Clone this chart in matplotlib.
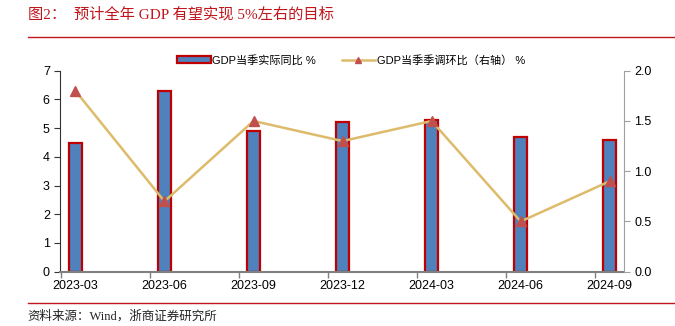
import matplotlib
matplotlib.use("Agg")
import matplotlib.pyplot as plt
from matplotlib.lines import Line2D
from matplotlib.patches import Patch
import numpy as np

plt.rcParams['font.family'] = ['Liberation Sans', 'Noto Sans CJK SC', 'DejaVu Sans']

quarters = ["2023-03", "2023-06", "2023-09", "2023-12", "2024-03", "2024-06", "2024-09"]
gdp_yoy = [4.5, 6.3, 4.9, 5.2, 5.3, 4.7, 4.6]
gdp_qoq = [1.8, 0.7, 1.5, 1.3, 1.5, 0.5, 0.9]

bar_fill = "#4F81BD"
bar_edge = "#C00000"
line_col = "#DDBB6A"
marker_col = "#C0504D"
title_red = "#C0161C"

fig = plt.figure(figsize=(6.75, 3.26), dpi=100)
ax = fig.add_axes([0.0893, 0.1666, 0.9244 - 0.0893, 0.783 - 0.1666])
ax2 = ax.twinx()

x = np.arange(len(quarters))
ax.bar(x, gdp_yoy, width=0.15, color=bar_fill, edgecolor=bar_edge, linewidth=1.6, zorder=2)
ax2.plot(x, gdp_qoq, color=line_col, linewidth=1.8, marker="^", markersize=6.5,
         markerfacecolor=marker_col, markeredgecolor=marker_col, zorder=3)

ax.set_xlim(-0.17, 6.16)
ax.set_ylim(0, 7)
ax2.set_ylim(0, 2.0)
ax.set_yticks(range(0, 8))
ax2.set_yticks([0, 0.5, 1.0, 1.5, 2.0])
ax2.set_yticklabels([f"{v:.1f}" for v in [0, 0.5, 1.0, 1.5, 2.0]])

ax.set_xticks(x)
ax.set_xticklabels(quarters)
ax.tick_params(axis="x", length=0, labelsize=9, pad=6)
ax.set_xticks(x - 0.163, minor=True)
ax.tick_params(axis="x", which="minor", length=4, color="#808080", width=1)
ax.tick_params(axis="y", labelsize=9, length=4, direction="out", color="#333333")
ax2.tick_params(axis="y", labelsize=9, length=4, direction="out", color="#A0A0A0")

for a in (ax, ax2):
    a.spines["top"].set_visible(False)
ax.spines["right"].set_visible(False)
ax2.spines["left"].set_visible(False)
ax2.spines["bottom"].set_visible(False)
ax.spines["left"].set_color("#333333")
ax2.spines["right"].set_color("#A0A0A0")
ax.spines["bottom"].set_color("#808080")
ax.spines["bottom"].set_linewidth(1.5)

handles = [
    Patch(facecolor=bar_fill, edgecolor=bar_edge, linewidth=1.6),
    Line2D([0], [0], color=line_col, linewidth=1.8, marker="^", markersize=5,
           markerfacecolor=marker_col, markeredgecolor=marker_col),
]
fig.legend(handles, ["GDP当季实际同比 %", "GDP当季季调环比（右轴） %"],
           loc="center", bbox_to_anchor=(0.52, 0.816), ncol=2, frameon=False,
           fontsize=8, handlelength=3.0, handleheight=0.5, columnspacing=2.3,
           handletextpad=0.15)

fig.text(0.041, 0.955, "图2：  预计全年 GDP 有望实现 5%左右的目标", color=title_red,
         fontsize=11, va="center", ha="left",
         family=['Liberation Serif', 'Noto Sans CJK SC'])
fig.add_artist(Line2D([0.041, 1.0], [0.887, 0.887], color=title_red, linewidth=1.0))
fig.add_artist(Line2D([0.041, 1.0], [0.071, 0.071], color=title_red, linewidth=1.0))
fig.text(0.041, 0.028, "资料来源：Wind，浙商证券研究所", color="#222222",
         fontsize=9, va="center", ha="left",
         family=['Liberation Serif', 'Noto Sans CJK SC'])

fig.savefig("out.png", dpi=100)
